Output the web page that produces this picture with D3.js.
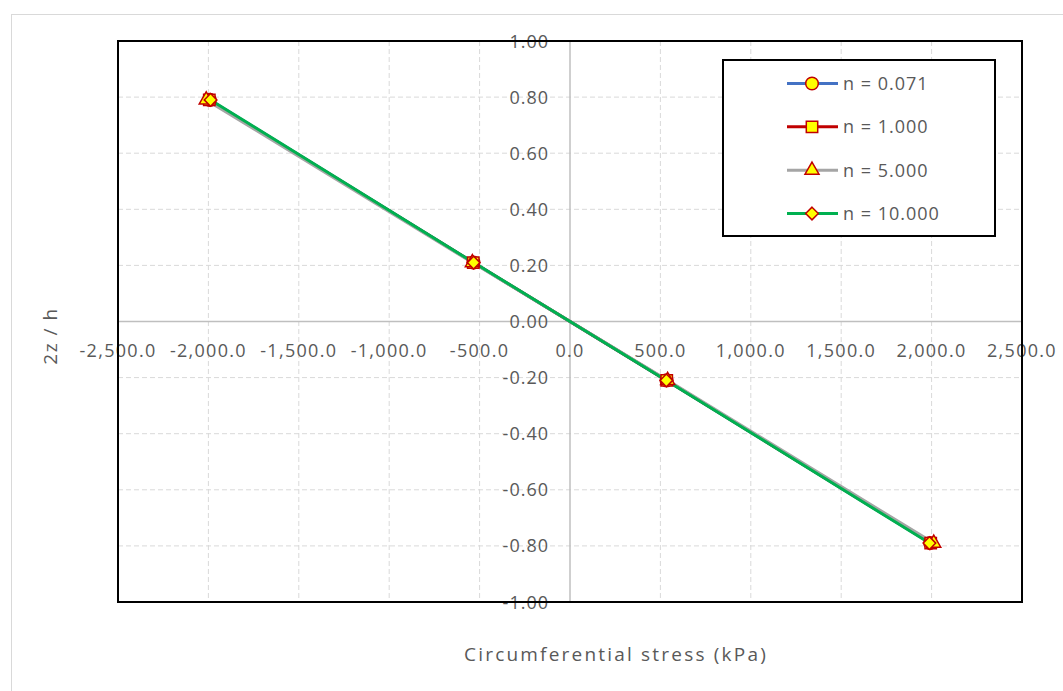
<!DOCTYPE html>
<html>
<head>
<meta charset="utf-8">
<script src="https://cdn.jsdelivr.net/npm/d3@7"></script>
<style>
  body { margin: 0; background: white; }
  text { font-family: "Open Sans", "Noto Sans", sans-serif; fill: #595959; }
</style>
</head>
<body>
<div class="board"></div>
<script>
var W = 1063, H = 691
var margin = { top: 41, right: 41, bottom: 89, left: 118 }
var width = W - margin.left - margin.right,
    height = H - margin.top - margin.bottom

SERIES = ["n = 0.071", "n = 1.000", "n = 5.000", "n = 10.000"]
COLORS = ["#4472C4", "#C00000", "#A5A5A5", "#00B050"]

// stress (kPa) and 2z/h for each series
STRESS = [
    [-1992, -534, 534, 1992],
    [-1995, -535, 535, 1995],
    [-2012, -540, 540, 2012],
    [-1988, -533, 533, 1988]
]
DEPTH = [0.79, 0.21, -0.21, -0.79]

X_TICKS = d3.range(-2500, 2501, 500)
Y_TICKS = d3.range(-1, 1.001, 0.2)

// square turned 45 degrees, like the spreadsheet diamond
var diamond = {
    draw: function (ctx, size) {
        let r = Math.sqrt(size) / 2 * Math.SQRT2
        ctx.moveTo(0, -r); ctx.lineTo(r, 0); ctx.lineTo(0, r); ctx.lineTo(-r, 0); ctx.closePath()
    }
}
SYMBOLS = [d3.symbolCircle, d3.symbolSquare, d3.symbolTriangle, diamond]
SIZES = [125, 130, 85, 80]

var svg = d3.select(".board")
    .append("svg")
    .attr("width", W)
    .attr("height", H)

// outer chart frame
svg.append("rect")
    .attr("x", 11.5).attr("y", 14.5)
    .attr("width", 1200).attr("height", 700)
    .attr("fill", "white")
    .attr("stroke", "#D9D9D9")
    .attr("stroke-width", 1)

var g = svg.append("g")
    .attr("transform", `translate(${margin.left}, ${margin.top})`)

let x = d3.scaleLinear().domain([-2500, 2500]).range([0, width])
let y = d3.scaleLinear().domain([-1, 1]).range([height, 0])

// gridlines
g.selectAll(".vgrid")
    .data(X_TICKS.filter(d => d != 0 && Math.abs(d) != 2500))
    .enter()
    .append("line")
    .attr("x1", d => x(d)).attr("x2", d => x(d))
    .attr("y1", 0).attr("y2", height)
    .attr("stroke", "#D9D9D9")
    .attr("stroke-dasharray", "5,3")

g.selectAll(".hgrid")
    .data(Y_TICKS.filter(d => Math.abs(d) > 0.01 && Math.abs(d) < 0.99))
    .enter()
    .append("line")
    .attr("x1", 0).attr("x2", width)
    .attr("y1", d => y(d)).attr("y2", d => y(d))
    .attr("stroke", "#D9D9D9")
    .attr("stroke-dasharray", "5,3")

// zero axes
g.append("line")
    .attr("x1", 0).attr("x2", width)
    .attr("y1", y(0)).attr("y2", y(0))
    .attr("stroke", "#BFBFBF").attr("stroke-width", 1.5)
g.append("line")
    .attr("x1", x(0)).attr("x2", x(0))
    .attr("y1", 0).attr("y2", height)
    .attr("stroke", "#BFBFBF").attr("stroke-width", 1.5)

// tick labels
let fmtX = d => d3.format(",.1f")(d).replace("−", "-")
g.selectAll(".xlab")
    .data(X_TICKS)
    .enter()
    .append("text")
    .attr("x", d => x(d))
    .attr("y", y(0) + 35)
    .attr("text-anchor", "middle")
    .style("font-size", "18px")
    .style("letter-spacing", "1.3px")
    .text(fmtX)

g.selectAll(".ylab")
    .data(Y_TICKS)
    .enter()
    .append("text")
    .attr("x", x(0) - 21)
    .attr("y", d => y(d) + 6.5)
    .attr("text-anchor", "end")
    .style("font-size", "18px")
    .style("letter-spacing", "1px")
    .text(d => d3.format(".2f")(Math.abs(d) < 1e-9 ? 0 : d).replace("−", "-"))

// plot border
g.append("rect")
    .attr("x", 0).attr("y", 0)
    .attr("width", width).attr("height", height)
    .attr("fill", "none")
    .attr("stroke", "black")
    .attr("stroke-width", 2)

// lines
let line = d3.line().x(d => x(d[0])).y(d => y(d[1]))
SERIES.forEach((s, i) => {
    let pts = STRESS[i].map((v, j) => [v, DEPTH[j]])
    g.append("path")
        .datum(pts)
        .attr("d", line)
        .attr("fill", "none")
        .attr("stroke", COLORS[i])
        .attr("stroke-width", 3)
})

// markers
SERIES.forEach((s, i) => {
    let pts = STRESS[i].map((v, j) => [v, DEPTH[j]])
    g.selectAll(".m" + i)
        .data(pts)
        .enter()
        .append("path")
        .attr("transform", d => `translate(${x(d[0])}, ${y(d[1])})`)
        .attr("d", d3.symbol().type(SYMBOLS[i]).size(SIZES[i]))
        .attr("fill", "#FFFF00")
        .attr("stroke", "#C00000")
        .attr("stroke-width", 1.5)
})

// axis titles
svg.append("text")
    .attr("transform", `translate(57, 336) rotate(-90)`)
    .attr("text-anchor", "middle")
    .style("font-size", "19px")
    .style("letter-spacing", "1.5px")
    .text("2z / h")

svg.append("text")
    .attr("x", 616)
    .attr("y", 661)
    .attr("text-anchor", "middle")
    .style("font-size", "19px")
    .style("letter-spacing", "2.2px")
    .text("Circumferential stress (kPa)")

// legend
let legend = svg.append("g")
legend.append("rect")
    .attr("x", 723).attr("y", 60)
    .attr("width", 272).attr("height", 176)
    .attr("fill", "white")
    .attr("stroke", "black")
    .attr("stroke-width", 2)

let legendY = d3.scaleLinear().domain([0, 3]).range([83.5, 213.5])
SERIES.forEach((s, i) => {
    legend.append("line")
        .attr("x1", 787).attr("x2", 838)
        .attr("y1", legendY(i)).attr("y2", legendY(i))
        .attr("stroke", COLORS[i])
        .attr("stroke-width", 3)
    legend.append("path")
        .attr("transform", `translate(812, ${legendY(i)})`)
        .attr("d", d3.symbol().type(SYMBOLS[i]).size(SIZES[i]))
        .attr("fill", "#FFFF00")
        .attr("stroke", "#C00000")
        .attr("stroke-width", 1.5)
    legend.append("text")
        .attr("x", 843)
        .attr("y", legendY(i) + 6.5)
        .style("font-size", "18px")
        .style("letter-spacing", "1px")
        .text(s)
})
</script>
</body>
</html>
